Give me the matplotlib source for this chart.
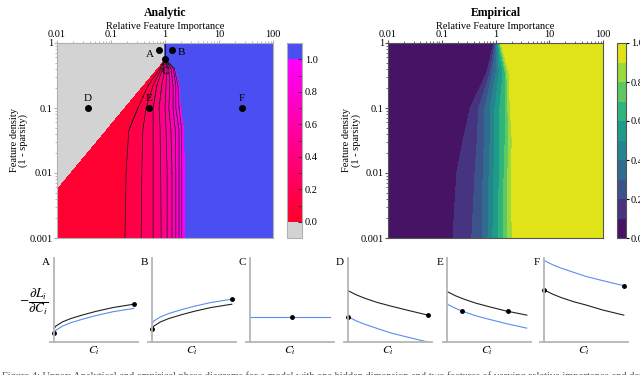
import numpy as np
import matplotlib.pyplot as plt
from matplotlib.colors import LinearSegmentedColormap, Normalize
from matplotlib.cm import ScalarMappable
from matplotlib.ticker import FixedLocator, NullFormatter

plt.rcParams['font.family'] = ['Liberation Serif', 'DejaVu Serif']
plt.rcParams['mathtext.fontset'] = 'stix'

# ejes
importance_ticks = [0.01, 0.1, 1, 10, 100]
importance_labels = ['0.01', '0.1', '1', '10', '100']
density_ticks = [0.001, 0.01, 0.1, 1]
density_labels = ['0.001', '0.01', '0.1', '1']
cbar_ticks = [0.0, 0.2, 0.4, 0.6, 0.8, 1.0]
cbar_labels = ['0.0', '0.2', '0.4', '0.6', '0.8', '1.0']

# analitico: log10(importancia) de las curvas de nivel 0.1 ... 1.0 en varias filas log10(densidad)
analytic_levels = [0.1, 0.2, 0.3, 0.4, 0.5, 0.6, 0.7, 0.8, 0.9, 1.0]
analytic_rows = [-3.0, -2.0, -1.34, -1.0, -0.65, -0.39, -0.26]
analytic_edges = [
    [-0.74, -0.44, -0.22, -0.07, 0.04, 0.13, 0.20, 0.26, 0.31, 0.39],
    [-0.72, -0.43, -0.22, -0.08, 0.04, 0.13, 0.20, 0.26, 0.31, 0.38],
    [-0.67, -0.41, -0.22, -0.09, 0.02, 0.11, 0.19, 0.26, 0.31, 0.37],
    [-0.50, -0.35, -0.22, -0.11, 0.00, 0.07, 0.15, 0.20, 0.26, 0.31],
    [-0.31, -0.22, -0.15, -0.06, 0.02, 0.09, 0.15, 0.20, 0.24, 0.28],
    [-0.09, -0.065, -0.04, 0.00, 0.04, 0.07, 0.11, 0.15, 0.17, 0.20],
    [-0.02, -0.015, -0.01, -0.005, 0.0, 0.005, 0.01, 0.015, 0.02, 0.025],
]
# borde de la zona gris (recta en log-log)
gray_edge_importance = [0.0018, 1.0]
gray_edge_density = [0.001, 0.55]

# puntos A-F
point_names = ['A', 'B', 'C', 'D', 'E', 'F']
point_importance = [0.78, 1.35, 1.0, 0.037, 0.5, 27]
point_density = [0.78, 0.78, 0.56, 0.1, 0.1, 0.1]

# empirico: log10(importancia) de los limites 0.1 ... 0.9
empirical_levels = [0.1, 0.2, 0.3, 0.4, 0.5, 0.6, 0.7, 0.8, 0.9]
empirical_rows = [-3.0, -2.0, -1.5, -1.0, -0.46, 0.0]
empirical_edges = [
    [-0.79, -0.44, -0.25, -0.14, -0.05, 0.05, 0.14, 0.23, 0.31],
    [-0.72, -0.38, -0.23, -0.12, -0.03, 0.07, 0.16, 0.23, 0.29],
    [-0.60, -0.34, -0.21, -0.10, -0.01, 0.08, 0.18, 0.25, 0.31],
    [-0.47, -0.31, -0.20, -0.10, -0.01, 0.08, 0.18, 0.23, 0.27],
    [-0.16, -0.10, -0.05, 0.01, 0.07, 0.14, 0.18, 0.21, 0.25],
    [-0.03, -0.01, 0.01, 0.03, 0.04, 0.05, 0.07, 0.08, 0.10],
]

# paneles inferiores
curve_x = [0, 0.02, 0.1, 0.2, 0.35, 0.5, 0.7, 0.95]
black_curves = {
    'A': [0.16, 0.19, 0.24, 0.28, 0.325, 0.365, 0.41, 0.45],
    'B': [0.16, 0.19, 0.24, 0.28, 0.325, 0.365, 0.41, 0.45],
    'C': None,
    'D': [0.61, 0.60, 0.56, 0.52, 0.47, 0.43, 0.38, 0.32],
    'E': [0.60, 0.59, 0.55, 0.51, 0.46, 0.42, 0.37, 0.32],
    'F': [0.62, 0.61, 0.57, 0.53, 0.48, 0.44, 0.38, 0.32],
}
blue_curves = {
    'A': [0.11, 0.14, 0.19, 0.23, 0.275, 0.315, 0.36, 0.40],
    'B': [0.22, 0.25, 0.30, 0.34, 0.385, 0.425, 0.47, 0.51],
    'C': [0.30, 0.30, 0.30, 0.30, 0.30, 0.30, 0.30, 0.30],
    'D': [0.30, 0.29, 0.25, 0.21, 0.16, 0.11, 0.06, 0.0],
    'E': [0.45, 0.44, 0.40, 0.36, 0.31, 0.27, 0.22, 0.165],
    'F': [0.97, 0.96, 0.92, 0.88, 0.83, 0.78, 0.73, 0.67],
}
dots_x = {'A': [0, 0.95], 'B': [0, 0.95], 'C': [0.5], 'D': [0, 0.95],
          'E': [0.175, 0.73], 'F': [0, 0.95]}
dots_y = {'A': [0.11, 0.45], 'B': [0.16, 0.51], 'C': [0.30], 'D': [0.30, 0.32],
          'E': [0.37, 0.365], 'F': [0.62, 0.67]}

caption = ('Figure 4: Upper: Analytical and empirical phase diagrams for a model with one hidden '
           'dimension and two features of varying relative importance and density.')

GRAY = '#d3d3d3'
BLUE = '#4b4ef0'
LINE_BLUE = '#5b8def'

fig = plt.figure(figsize=(6.4, 3.75), dpi=100)


def px_axes(x0, y0, x1, y1):
    return fig.add_axes([x0 / 640, 1 - y1 / 375, (x1 - x0) / 640, (y1 - y0) / 375])


lx = np.linspace(-2, 2, 801)
ly = np.linspace(-3, 0, 601)
X, Y = np.meshgrid(10 ** lx, 10 ** ly)

# campo analitico
a_edges = np.array(analytic_edges)
apex = analytic_rows[-1]
Za = np.empty((len(ly), len(lx)))
for i, yy in enumerate(ly):
    if yy > apex:
        Za[i] = np.where(lx < 0, -0.5, 1.5)
        continue
    b = [np.interp(yy, analytic_rows, a_edges[:, k]) for k in range(len(analytic_levels))]
    g = np.interp(yy, np.log10(gray_edge_density), np.log10(gray_edge_importance))
    row = np.interp(lx, [g] + b, [0.0] + analytic_levels)
    row[lx < g] = -0.5
    row[lx > b[-1]] = 1.5
    Za[i] = row

cmap_a = LinearSegmentedColormap.from_list('rojo_magenta', ['#ff0028', '#ff00ff'])
cmap_a.set_under(GRAY)
cmap_a.set_over(BLUE)
band_colors = [GRAY] + [cmap_a(v - 0.05) for v in analytic_levels] + [BLUE]

ax1 = px_axes(57, 43, 273, 238)
ax1.contourf(X, Y, Za, levels=[-1.0, 0.0] + analytic_levels + [2.0], colors=band_colors)
Zl = Za.copy()
Zl[ly > apex, :] = np.nan
ax1.contour(X, Y, Zl, levels=analytic_levels[:-1], colors='#1a1a1a', linewidths=0.5)
ax1.plot([1, 1], [0.56, 1], color='#1a1a1a', lw=0.7)
ax1.plot(point_importance, point_density, 'o', color='k', ms=4)
label_offsets = {'A': (-7, -3), 'B': (7, -2), 'C': (0, -9), 'D': (0, 7), 'E': (0, 7), 'F': (0, 7)}
for n, px, py in zip(point_names, point_importance, point_density):
    ax1.annotate(n, (px, py), xytext=label_offsets[n], textcoords='offset points',
                 ha='center', va='center', fontsize=8)

# campo empirico
e_edges = np.array(empirical_edges)
Ze = np.empty((len(ly), len(lx)))
for i, yy in enumerate(ly):
    b = [np.interp(yy, empirical_rows, e_edges[:, k]) for k in range(len(empirical_levels))]
    Ze[i] = np.interp(lx, [-3.0] + b + [3.0], [0.0] + empirical_levels + [1.0])

ax2 = px_axes(388, 43, 603, 238)
cs2 = ax2.contourf(X, Y, Ze, levels=np.linspace(0, 1, 11), cmap='viridis')

for ax, col, ypad in [(ax1, '#b0b0b0', 1), (ax2, '#555555', 0)]:
    ax.set_xscale('log')
    ax.set_yscale('log')
    ax.set_xlim(0.01, 100)
    ax.set_ylim(0.001, 1)
    ax.xaxis.tick_top()
    ax.xaxis.set_label_position('top')
    ax.set_xticks(importance_ticks, importance_labels)
    ax.set_yticks(density_ticks, density_labels)
    ax.xaxis.set_minor_formatter(NullFormatter())
    ax.yaxis.set_minor_formatter(NullFormatter())
    ax.tick_params(which='major', labelsize=7.5, length=2, pad=1, color=col)
    ax.tick_params(which='minor', length=1.2, color=col)
    ax.set_xlabel('Relative Feature Importance', fontsize=7.5, labelpad=0.5)
    ax.set_ylabel('Feature density\n(1 - sparsity)', fontsize=7.5, labelpad=ypad, linespacing=1.0)
    for s in ax.spines.values():
        s.set_color(col)
        s.set_linewidth(0.8)

# barras de color
cax1 = px_axes(287, 43, 302, 238)
cb1 = fig.colorbar(ScalarMappable(Normalize(0, 1), cmap_a), cax=cax1, extend='both',
                   extendrect=True, extendfrac=0.1, ticks=cbar_ticks)
cb1.ax.set_yticklabels(cbar_labels)
cb1.ax.yaxis.set_minor_locator(FixedLocator([0.1, 0.3, 0.5, 0.7, 0.9]))
cb1.ax.tick_params(which='both', direction='in', labelsize=7.5, length=3, pad=2, color='#333333')
cb1.outline.set_edgecolor('#b0b0b0')

cax2 = px_axes(617, 43, 626, 238)
cb2 = fig.colorbar(cs2, cax=cax2, ticks=cbar_ticks)
cb2.ax.set_yticklabels(cbar_labels)
cb2.ax.tick_params(labelsize=7.5, length=2.5, pad=1)
cb2.outline.set_edgecolor('#555555')

fig.text(165 / 640, 1 - 13 / 375, 'Analytic', ha='center', va='center', fontsize=8.5, fontweight='bold')
fig.text(496 / 640, 1 - 13 / 375, 'Empirical', ha='center', va='center', fontsize=8.5, fontweight='bold')

# paneles inferiores
panel_left = [50, 148, 246, 344, 443, 540]
for n, L in zip(point_names, panel_left):
    ax = px_axes(L, 258, L + 88, 342)
    ax.set_xlim(-0.05, 1.0)
    ax.set_ylim(0, 1)
    if black_curves[n] is not None:
        ax.plot(curve_x, black_curves[n], color='#222222', lw=0.8)
    ax.plot(curve_x, blue_curves[n], color=LINE_BLUE, lw=0.8)
    ax.plot(dots_x[n], dots_y[n], 'o', color='k', ms=2.5)
    ax.spines['left'].set_position(('data', 0))
    ax.spines['top'].set_visible(False)
    ax.spines['right'].set_visible(False)
    for s in ['left', 'bottom']:
        ax.spines[s].set_color('#b5b5b5')
        ax.spines[s].set_linewidth(1.3)
    ax.set_xticks([])
    ax.set_yticks([])
    ax.patch.set_alpha(0)
    ax.text(0.0, 1.0, n, transform=ax.transAxes, ha='right', va='top', fontsize=8)
    ax.text(0.5, -0.11, r'$C_i$', transform=ax.transAxes, ha='center', va='center', fontsize=8.5)
    if n == 'A':
        ax.text(-0.19, 0.47, r'$-\dfrac{\partial L_i}{\partial C_i}$', transform=ax.transAxes,
                ha='center', va='center', fontsize=9.5)

fig.text(0.003, -0.004, caption, ha='left', va='center', fontsize=7.5, color='#555555')

fig.savefig('out.png', dpi=100)
